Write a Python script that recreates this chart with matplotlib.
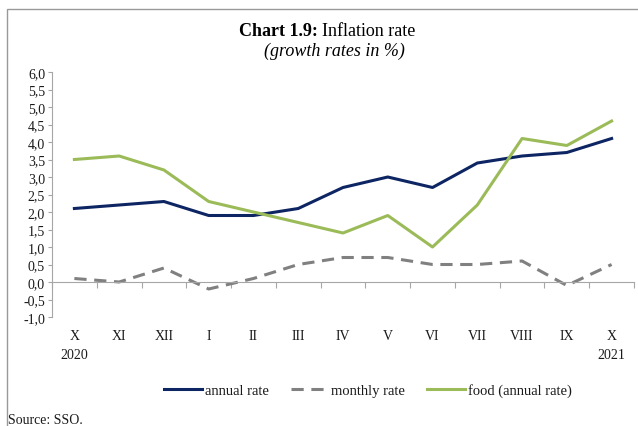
import numpy as np
import matplotlib
matplotlib.use('Agg')
from matplotlib import pyplot as plt
from matplotlib.patches import Rectangle

months = ['X', 'XI', 'XII', 'I', 'II', 'III', 'IV', 'V', 'VI', 'VII', 'VIII', 'IX', 'X']
years = {0: '2020', 12: '2021'}
annual = [2.1, 2.2, 2.3, 1.9, 1.9, 2.1, 2.7, 3.0, 2.7, 3.4, 3.6, 3.7, 4.1]
monthly = [0.1, 0.0, 0.4, -0.2, 0.1, 0.5, 0.7, 0.7, 0.5, 0.5, 0.6, -0.1, 0.5]
food = [3.5, 3.6, 3.2, 2.3, 2.0, 1.7, 1.4, 1.9, 1.0, 2.2, 4.1, 3.9, 4.6]

plt.rcParams['font.family'] = 'Liberation Serif'
txt = '#1a1a1a'
grey = '#a6a6a6'

fig = plt.figure(figsize=(6.38, 4.27), dpi=100)
fig.patches.append(Rectangle((7/638, -0.1), 1.2, 1 - 10/427 + 0.1, transform=fig.transFigure,
                             fill=False, edgecolor='#999999', lw=1.0))

ax = fig.add_axes([52/638, 1-318/427, (634-52)/638, (318-73)/427])
x = np.arange(len(months))
ax.plot(x, annual, color='#0d2562', lw=2.2, label='annual rate')
ax.plot(x, monthly, color='#808080', lw=2.2, ls=(0, (4, 2.5)), label='monthly rate')
ax.plot(x, food, color='#9bbb59', lw=2.2, label='food (annual rate)')

ax.set_xlim(-0.5, 12.5)
ax.set_ylim(-1, 6)
ax.set_yticks(np.arange(-1, 6.01, 0.5))
ax.set_yticklabels([('%.1f' % v).replace('.', ',') for v in np.arange(-1, 6.01, 0.5)],
                   fontsize=10, color=txt)
ax.set_xticks(np.arange(-0.5, 12.6, 1))
ax.set_xticklabels([])
for s in ['top', 'right']:
    ax.spines[s].set_visible(False)
ax.spines['bottom'].set_position(('data', 0))
ax.spines['left'].set_color(grey)
ax.spines['bottom'].set_color(grey)
ax.tick_params(axis='y', length=3, color=grey, pad=2)
ax.tick_params(axis='x', length=4, color=grey, direction='out')

for i, m in enumerate(months):
    ax.text(i, -1.52, m, ha='center', va='center', fontsize=10, color=txt, clip_on=False)
for i, yr in years.items():
    ax.text(i, -2.08, yr, ha='center', va='center', fontsize=10, color=txt, clip_on=False)

fig.text(318/638, 1-32/427, 'Chart 1.9:', ha='right', va='center',
         fontsize=13, fontweight='bold', color='black')
fig.text(322/638, 1-32/427, 'Inflation rate', ha='left', va='center',
         fontsize=13, color='black')
fig.text(334/638, 1-51/427, '(growth rates in %)', ha='center', va='center',
         fontsize=13, style='italic', color='black')

fig.legend(loc='center', bbox_to_anchor=(368/638, 1-391/427), ncol=3, frameon=False,
           fontsize=10.5, handlelength=2.6, handletextpad=0.2, columnspacing=1.5,
           labelcolor=txt)
fig.text(8/638, 1-421/427, 'Source: SSO.', ha='left', va='center', fontsize=10, color=txt)

fig.savefig('out.png', dpi=100)
